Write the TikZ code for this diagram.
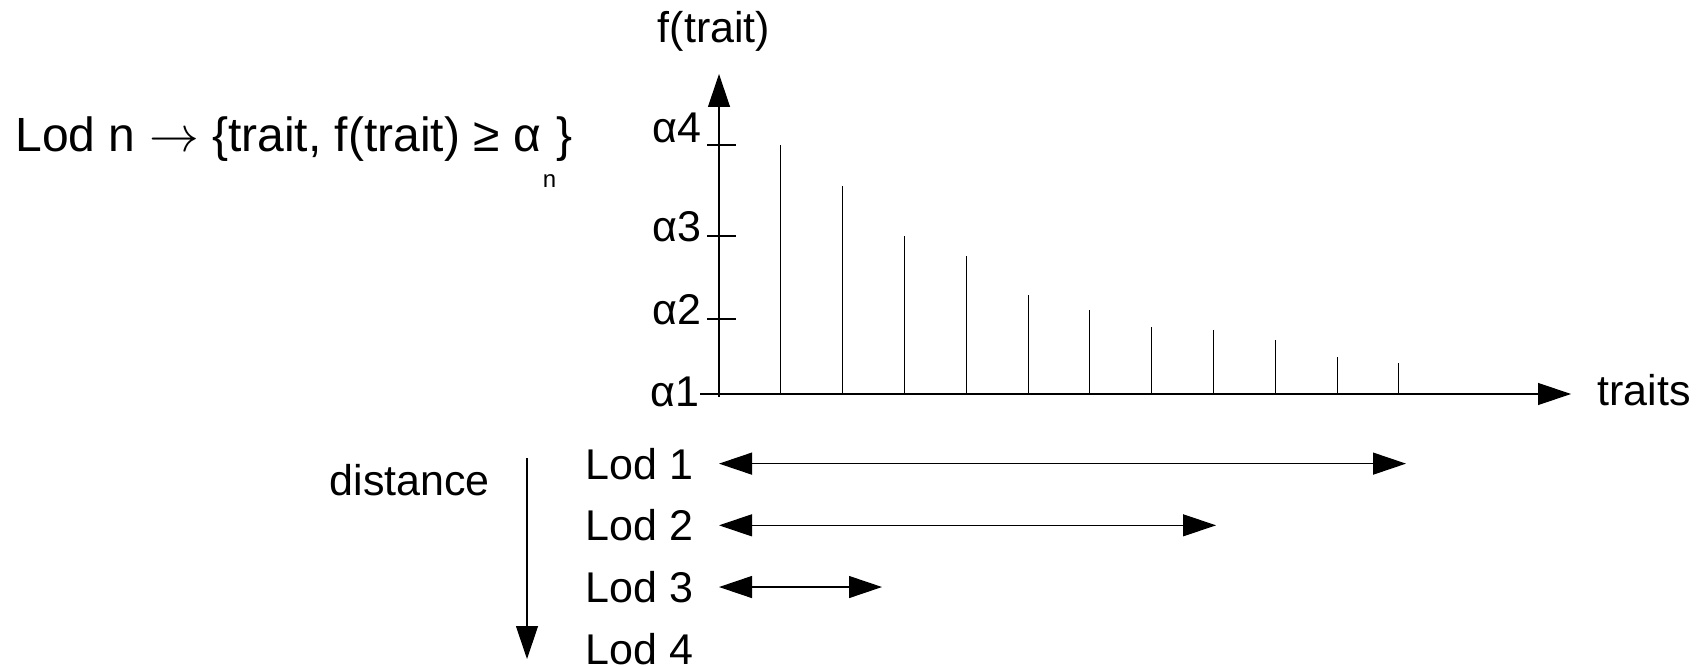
\documentclass[tikz,border=0pt]{standalone}
\usepackage{fontspec}
\setmainfont{Liberation Sans}
\usetikzlibrary{arrows.meta}

\begin{document}
\begin{tikzpicture}[x=0.5pt,y=-0.5pt,>={Triangle[length=16.5pt,width=11pt]},line width=0.6pt,node distance=30.85pt,
  lbl/.style={inner sep=0pt,font=\fontsize{21.5pt}{26pt}\selectfont},
  bar/.style={line width=0.5pt}]
\useasboundingbox (0,0) rectangle (1700,667);

% definition of a Lod
\node[inner sep=0pt,anchor=base west,font=\fontsize{24pt}{30pt}\selectfont] (rule) at (15,152)
  {Lod n $\rightarrow$ \{trait, f(trait) ≥ α\hspace{1pt}\raisebox{-18pt}{\fontsize{12pt}{15pt}\selectfont n}\}};

% axes
\coordinate (o) at (719,394);
\coordinate (ybot) at (719,397);
\coordinate (ytip) at (719,74);
\coordinate (xleft) at (700,394);
\coordinate (xtip) at (1571,394);
\draw[->] (ybot) -- (ytip);
\draw[->] (xleft) -- (xtip);
\node[lbl,anchor=base] (fy) at (714,43) {f(trait)};
\node[lbl,anchor=base west] (traits) at (1597,406) {traits};

% thresholds
\foreach \y/\n in {145/4,236/3,319/2}
  \draw (707,\y) -- (736,\y);
\node[lbl,anchor=base east] (a4) at (702,143) {α4};
\node[lbl,anchor=base east] (a3) at (702,242) {α3};
\node[lbl,anchor=base east] (a2) at (702,325) {α2};
\node[lbl,anchor=base east] (a1) at (700,407) {α1};

% f of each trait
\foreach \h [count=\i] in {145,186,236,256,295,310,327,330,340,357,363}
  \draw[bar] (719+61.8*\i,394) -- (719+61.8*\i,\h);

% Lods
\node[lbl,anchor=base west] (lod1) at (585,479) {Lod 1};
\node[lbl] (lod2) [below of=lod1] {Lod 2};
\node[lbl] (lod3) [below of=lod2] {Lod 3};
\node[lbl] (lod4) [below of=lod3] {Lod 4};

\coordinate (e1) at (1406,0);
\coordinate (e2) at (1216,0);
\coordinate (e3) at (882,0);
\draw[<->] (lod1 -| o) -- (lod1 -| e1);
\draw[<->] (lod2 -| o) -- (lod2 -| e2);
\draw[<->] (lod3 -| o) -- (lod3 -| e3);

% distance
\node[lbl,anchor=base west] (dist) at (329,495) {distance};
\coordinate (dtop) at (527,458);
\coordinate (dbot) at (527,659);
\draw[->] (dtop) -- (dbot);
\end{tikzpicture}
\end{document}
